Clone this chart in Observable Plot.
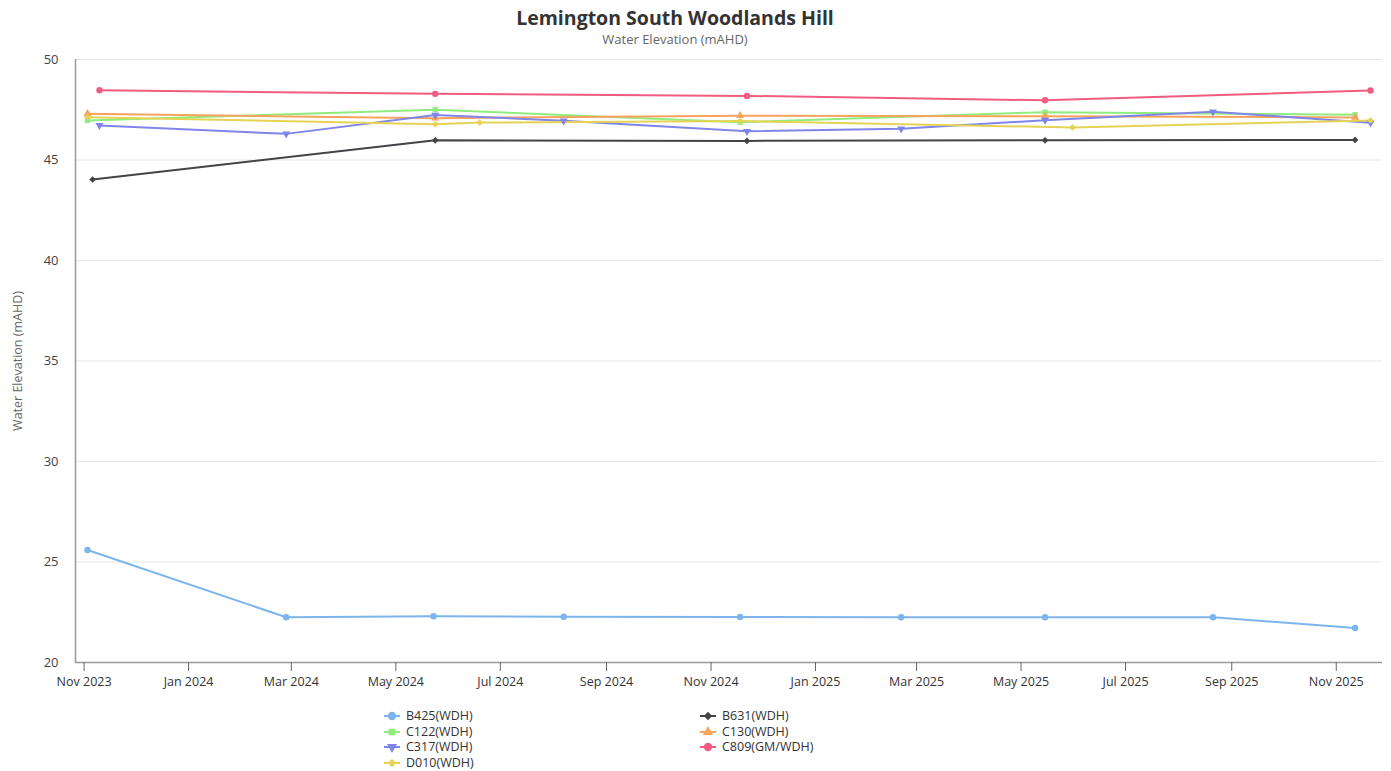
<!DOCTYPE html>
<html>
<head>
<meta charset="utf-8">
<script src="https://cdn.jsdelivr.net/npm/d3@7"></script>
<script src="https://cdn.jsdelivr.net/npm/@observablehq/plot@0.6"></script>
<style>
  body { margin: 0; background: #fff; font-family: "Open Sans", "Noto Sans", sans-serif; }
  #wrap { position: relative; width: 1391px; height: 771px; overflow: hidden; }
  #title { position: absolute; left: 0; top: 4px; width: 1350px; text-align: center; font-size: 19.5px; font-weight: bold; color: #333; }
  #subtitle { position: absolute; left: 0; top: 30px; width: 1350px; text-align: center; font-size: 13px; color: #666; }
  #chart { position: absolute; left: 0; top: 48px; }
  .leg { position: absolute; font-size: 12.5px; line-height: 14px; color: #333; display: flex; align-items: center; height: 14px; white-space: nowrap; }
  .leg svg { margin-right: 6px; }
  .leg span { display: inline-block; height: 14px; line-height: 14px; }
</style>
</head>
<body>
<div id="wrap">
  <div id="title">Lemington South Woodlands Hill</div>
  <div id="subtitle">Water Elevation (mAHD)</div>
  <div id="chart"></div>
  <div id="legend"></div>
</div>
<script>
// ---- data ----
const seriesNames = ["B425(WDH)", "B631(WDH)", "C122(WDH)", "C130(WDH)", "C317(WDH)", "C809(GM/WDH)", "D010(WDH)"];
const seriesColors = ["#7cb5ec", "#434348", "#90ed7d", "#f7a35c", "#8085e9", "#f15c80", "#e4d354"];
const seriesSymbols = ["circle", "diamond2", "square", "triangle", "triangle", "circle", "diamond2"];
const seriesRotate = [0, 0, 0, 0, 180, 0, 0];

const b425Dates = ["2023-11-03", "2024-02-27", "2024-05-23", "2024-08-07", "2024-11-18", "2025-02-20", "2025-05-15", "2025-08-21", "2025-11-12"];
const b425Values = [25.6, 22.25, 22.3, 22.28, 22.26, 22.25, 22.25, 22.25, 21.72];

const b631Dates = ["2023-11-06", "2024-05-24", "2024-11-22", "2025-05-15", "2025-11-12"];
const b631Values = [44.03, 45.98, 45.95, 45.98, 46.0];

const c122Dates = ["2023-11-03", "2024-05-24", "2024-11-18", "2025-05-15", "2025-11-12"];
const c122Values = [46.97, 47.5, 46.88, 47.38, 47.25];

const c130Dates = ["2023-11-03", "2024-05-24", "2024-11-18", "2025-05-15", "2025-11-12"];
const c130Values = [47.3, 47.08, 47.2, 47.18, 47.12];

const c317Dates = ["2023-11-10", "2024-02-27", "2024-05-24", "2024-08-07", "2024-11-22", "2025-02-20", "2025-05-15", "2025-08-21", "2025-11-21"];
const c317Values = [46.72, 46.3, 47.24, 46.95, 46.43, 46.55, 46.98, 47.4, 46.85];

const c809Dates = ["2023-11-10", "2024-05-24", "2024-11-22", "2025-05-15", "2025-11-21"];
const c809Values = [48.47, 48.29, 48.19, 47.97, 48.46];

const d010Dates = ["2023-11-03", "2024-05-24", "2024-06-19", "2024-11-18", "2025-05-31", "2025-11-21"];
const d010Values = [47.13, 46.78, 46.86, 46.94, 46.62, 46.97];

const yTicks = [20, 25, 30, 35, 40, 45, 50];
const xTickLabels = ["2023-11-01", "2024-01-01", "2024-03-01", "2024-05-01", "2024-07-01", "2024-09-01", "2024-11-01", "2025-01-01", "2025-03-01", "2025-05-01", "2025-07-01", "2025-09-01", "2025-11-01"];
const xDomain = ["2023-10-27", "2025-11-28"];

// ---- build table ----
const seriesData = [
  [b425Dates, b425Values], [b631Dates, b631Values], [c122Dates, c122Values], [c130Dates, c130Values],
  [c317Dates, c317Values], [c809Dates, c809Values], [d010Dates, d010Values]
];
const rows = [];
seriesData.forEach(([ds, vs], i) => {
  ds.forEach((d, j) => rows.push({ series: seriesNames[i], date: new Date(d), value: vs[j], rot: seriesRotate[i] }));
});

const font = '"Open Sans", "Noto Sans", sans-serif';

const chart = Plot.plot({
  width: 1391,
  height: 654,
  marginTop: 11,
  marginBottom: 40,
  marginLeft: 75,
  marginRight: 9,
  style: { fontFamily: font, fontSize: "12px", color: "#333", background: "transparent" },
  x: { type: "utc", domain: xDomain.map(d => new Date(d)) },
  y: { domain: [20, 50] },
  color: { domain: seriesNames, range: seriesColors },
  symbol: { domain: seriesNames, range: seriesSymbols },
  marks: [
    Plot.gridY(yTicks, { stroke: "#e6e6e6", strokeOpacity: 1 }),
    Plot.ruleX([new Date(xDomain[0])], { stroke: "#999", strokeWidth: 1.5 }),
    Plot.ruleY([20], { stroke: "#999", strokeWidth: 1.5 }),
    Plot.axisY(yTicks, {
      tickSize: 0, tickPadding: 17, fill: "#444", fontSize: 13,
      label: "Water Elevation (mAHD)", labelAnchor: "center", labelArrow: "none", labelOffset: 62
    }),
    Plot.axisX(xTickLabels.map(d => new Date(d)), {
      tickSize: 9, tickPadding: 6, stroke: "#666", fill: "#333", fontSize: 12.5,
      tickFormat: d3.utcFormat("%b %Y"), label: null
    }),
    Plot.line(rows, { x: "date", y: "value", z: "series", stroke: "series", strokeWidth: 2 }),
    Plot.dot(rows, { x: "date", y: "value", fill: "series", symbol: "series", rotate: "rot", r: d => d.series.startsWith("B425") || d.series.startsWith("C809") ? 4.6 : 4, stroke: "none" })
  ]
});
chart.querySelectorAll("[aria-label='y-axis label'] text, [aria-label='y-axis label']").forEach(t => { t.setAttribute("fill", "#666"); t.setAttribute("font-size", "12.5"); });
document.getElementById("chart").appendChild(chart);

// ---- legend ----
const legendCols = [[0, 2, 4, 6], [1, 3, 5]];
const legendX = [384, 700];
const legendY = [709, 724.5, 740, 755.5];
const legend = document.getElementById("legend");
legendCols.forEach((col, ci) => {
  col.forEach((si, ri) => {
    const item = document.createElement("div");
    item.className = "leg";
    item.style.left = legendX[ci] + "px";
    item.style.top = legendY[ri] + "px";
    const sym = { circle: d3.symbolCircle, diamond2: d3.symbolDiamond2, square: d3.symbolSquare, triangle: d3.symbolTriangle }[seriesSymbols[si]];
    const path = d3.symbol(sym, seriesSymbols[si] === "circle" ? 55 : 45)();
    item.innerHTML = `<svg width="16" height="12"><line x1="0" x2="16" y1="6" y2="6" stroke="${seriesColors[si]}" stroke-width="2"/><path d="${path}" transform="translate(8,6) rotate(${seriesRotate[si]})" fill="${seriesColors[si]}"/></svg><span>${seriesNames[si]}</span>`;
    legend.appendChild(item);
  });
});
</script>
</body>
</html>
